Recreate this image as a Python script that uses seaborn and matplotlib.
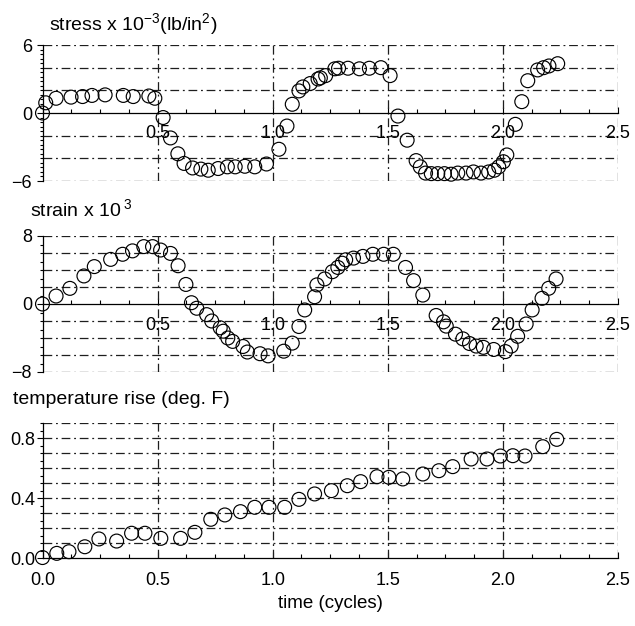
import numpy as np
import pandas as pd
import matplotlib
matplotlib.use("Agg")
import matplotlib.pyplot as plt
import seaborn as sns
from matplotlib.ticker import MultipleLocator, FixedLocator

sns.set_theme(style="white")
plt.rcParams['font.family'] = ['Liberation Sans', 'DejaVu Sans']
plt.rcParams['mathtext.fontset'] = 'custom'
plt.rcParams['mathtext.rm'] = 'Liberation Sans'
plt.rcParams['mathtext.it'] = 'Liberation Sans:italic'
plt.rcParams['mathtext.bf'] = 'Liberation Sans:bold'

# ---------------- data ----------------
stress_t = [0, 0.014, 0.059, 0.124, 0.174, 0.215, 0.272, 0.351, 0.394, 0.462, 0.488,
            0.524, 0.556, 0.588, 0.615, 0.652, 0.688, 0.72, 0.763, 0.803, 0.837, 0.879,
            0.922, 0.973, 1.027, 1.062, 1.085, 1.114, 1.131, 1.163, 1.197, 1.207, 1.23,
            1.27, 1.286, 1.327, 1.377, 1.42, 1.47, 1.51, 1.544, 1.584, 1.623, 1.641,
            1.664, 1.689, 1.717, 1.746, 1.775, 1.804, 1.84, 1.872, 1.905, 1.938, 1.963,
            1.982, 2.002, 2.017, 2.054, 2.082, 2.108, 2.151, 2.177, 2.2, 2.238]
stress = [0, 0.9, 1.3, 1.4, 1.45, 1.55, 1.6, 1.55, 1.45, 1.5, 1.3,
          -0.4, -2.2, -3.6, -4.45, -4.85, -4.95, -5.05, -4.9, -4.75, -4.75, -4.7,
          -4.75, -4.5, -3.2, -1.15, 0.77, 1.95, 2.3, 2.6, 3.0, 3.1, 3.3,
          3.9, 3.95, 3.95, 3.9, 3.95, 4.0, 3.3, -0.27, -2.4, -4.2, -4.75,
          -5.3, -5.35, -5.35, -5.35, -5.4, -5.3, -5.3, -5.2, -5.3, -5.2, -5.05,
          -4.75, -4.3, -3.7, -1.0, 1.0, 2.85, 3.8, 4.0, 4.15, 4.35]

strain_t = [0, 0.059, 0.119, 0.18, 0.225, 0.296, 0.348, 0.391, 0.44, 0.478, 0.513,
            0.556, 0.589, 0.623, 0.647, 0.67, 0.713, 0.735, 0.772, 0.785, 0.805, 0.826,
            0.871, 0.89, 0.945, 0.98, 1.048, 1.085, 1.114, 1.139, 1.182, 1.192, 1.226,
            1.259, 1.283, 1.302, 1.317, 1.351, 1.392, 1.435, 1.482, 1.524, 1.577, 1.612,
            1.652, 1.71, 1.742, 1.754, 1.794, 1.826, 1.855, 1.884, 1.915, 1.96, 2.011,
            2.036, 2.064, 2.101, 2.127, 2.17, 2.199, 2.231]
strain = [0, 0.94, 1.84, 3.3, 4.4, 5.25, 5.85, 6.25, 6.75, 6.75, 6.35,
          5.95, 4.5, 2.3, 0.15, -0.5, -1.25, -2.0, -2.8, -3.2, -4.0, -4.4,
          -5.0, -5.65, -5.85, -6.1, -5.55, -4.6, -2.65, -0.7, 0.85, 2.25, 2.95,
          3.8, 4.3, 4.8, 5.2, 5.4, 5.6, 5.85, 5.85, 5.85, 4.3, 2.75,
          1.05, -1.35, -2.1, -2.6, -3.55, -4.1, -4.65, -4.95, -5.1, -5.35, -5.6,
          -4.95, -3.8, -2.35, -0.7, 0.67, 1.85, 2.95]

temp_t = [0, 0.062, 0.115, 0.184, 0.245, 0.322, 0.387, 0.445, 0.514, 0.6, 0.662,
          0.731, 0.792, 0.86, 0.922, 0.984, 1.052, 1.114, 1.182, 1.255, 1.324, 1.382,
          1.453, 1.505, 1.565, 1.652, 1.722, 1.782, 1.862, 1.931, 1.989, 2.043, 2.096,
          2.173, 2.234]
temp = [0.005, 0.033, 0.044, 0.077, 0.129, 0.115, 0.167, 0.167, 0.133, 0.133, 0.173,
        0.26, 0.289, 0.311, 0.34, 0.34, 0.34, 0.393, 0.429, 0.451, 0.484, 0.511,
        0.544, 0.54, 0.529, 0.562, 0.584, 0.611, 0.662, 0.662, 0.682, 0.684, 0.682,
        0.744, 0.793]

x_major = [0.5, 1.0, 1.5, 2.0, 2.5]
x_major_bottom = [0.0, 0.5, 1.0, 1.5, 2.0, 2.5]
stress_ticks = [-6, 0, 6]
strain_ticks = [-8, 0, 8]
temp_ticks = [0.0, 0.4, 0.8]
stress_labels = ["\u22126", "0", "6"]
strain_labels = ["\u22128", "0", "8"]
temp_labels = ["0.0", "0.4", "0.8"]

# ---------------- figure ----------------
W, H = 635, 626
fig = plt.figure(figsize=(W / 100, H / 100), dpi=100)


def add_axes(x0, x1, ytop, ybot):
    return fig.add_axes([x0 / W, 1 - ybot / H, (x1 - x0) / W, (ybot - ytop) / H])


ax1 = add_axes(42.5, 618, 45, 181)
ax2 = add_axes(42.5, 618, 236, 372)
ax3 = add_axes(42.5, 618, 423.3, 558.3)

grid_kw = dict(color='#1e1e1e', lw=0.9, ls=(0, (7, 3, 1.5, 3)), zorder=1)
mk_kw = dict(marker='o', s=100, facecolor='none', edgecolor='black',
             linewidth=0.85, clip_on=False, zorder=5, legend=False)

TICK_FS = 13


def style(ax, ylim, yticks, ylabels, ygrid, minor_y, xticks, zero_axis, ypad):
    ax.set_xlim(0, 2.5)
    ax.set_ylim(*ylim)
    for s in ['top', 'right']:
        ax.spines[s].set_visible(False)
    for s in ['left', 'bottom']:
        ax.spines[s].set_color('black')
        ax.spines[s].set_linewidth(0.9)
    if zero_axis:
        ax.spines['bottom'].set_position(('data', 0))
    for g in ygrid:
        ax.axhline(g, **grid_kw)
    for g in x_major:
        ax.axvline(g, **grid_kw)
    ax.xaxis.set_major_locator(FixedLocator(xticks))
    ax.xaxis.set_minor_locator(MultipleLocator(0.125))
    ax.set_xticklabels([f"{v:.1f}" for v in xticks])
    ax.yaxis.set_major_locator(FixedLocator(yticks))
    ax.yaxis.set_minor_locator(MultipleLocator(minor_y))
    ax.set_yticklabels(ylabels)
    ax.tick_params(axis='x', which='major', direction='in', length=4, width=0.8,
                   colors='black', labelsize=TICK_FS, pad=9, bottom=True)
    ax.tick_params(axis='x', which='minor', direction='in', length=3, width=0.8,
                   colors='black', bottom=True)
    ax.tick_params(axis='y', which='major', direction='out', length=4, width=0.8,
                   colors='black', labelsize=TICK_FS, pad=ypad, left=True)
    ax.tick_params(axis='y', which='minor', direction='out', length=2.5, width=0.8,
                   colors='black', left=True)
    ax.set_xlabel('')
    ax.set_ylabel('')


df1 = pd.DataFrame({'t': stress_t, 'v': stress})
df2 = pd.DataFrame({'t': strain_t, 'v': strain})
df3 = pd.DataFrame({'t': temp_t, 'v': temp})

sns.scatterplot(data=df1, x='t', y='v', ax=ax1, **mk_kw)
sns.scatterplot(data=df2, x='t', y='v', ax=ax2, **mk_kw)
sns.scatterplot(data=df3, x='t', y='v', ax=ax3, **mk_kw)

style(ax1, (-6, 6), stress_ticks, stress_labels, [-6, -4, -2, 2, 4, 6], 0.4,
      x_major, True, 3.5)
style(ax2, (-8, 8), strain_ticks, strain_labels, [-8, -6, -4, -2, 2, 4, 6, 8], 1.0,
      x_major, True, 3.5)
style(ax3, (0, 0.9), temp_ticks, temp_labels,
      [0.1, 0.2, 0.3, 0.4, 0.5, 0.6, 0.7, 0.8, 0.9], 0.05, x_major_bottom, False, 1.0)
ax3.tick_params(axis='x', which='major', pad=10)

TITLE_FS = 14
fig.text(49 / W, 1 - 24 / H, "stress x 10$^{-3}$(lb/in$^2$)", fontsize=TITLE_FS,
         ha='left', va='center', color='black')
fig.text(30 / W, 1 - 209 / H, "strain x 10$^{\\ 3}$", fontsize=TITLE_FS,
         ha='left', va='center', color='black')
fig.text(13 / W, 1 - 400 / H, "temperature rise (deg. F)", fontsize=TITLE_FS,
         ha='left', va='center', color='black')
fig.text(330 / W, 1 - 604 / H, "time (cycles)", fontsize=13.5,
         ha='center', va='center', color='black')

fig.savefig("out.png", dpi=100, facecolor='white')
